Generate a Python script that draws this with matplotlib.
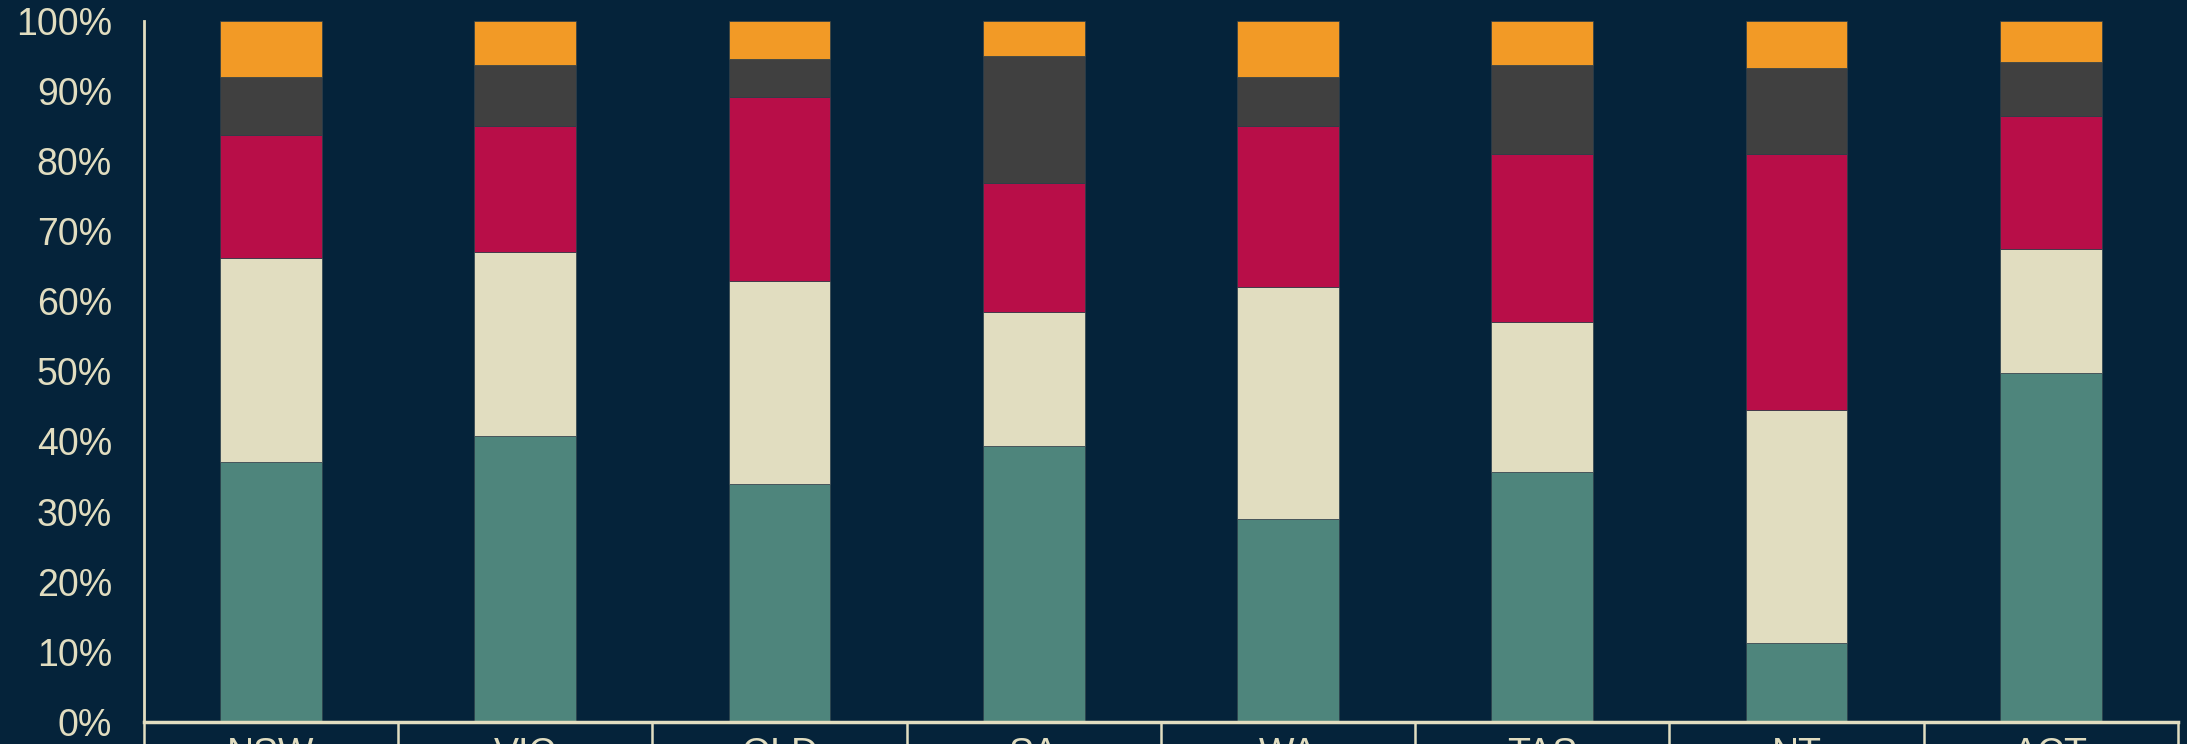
import numpy as np
import matplotlib.pyplot as plt
from matplotlib.ticker import PercentFormatter

# Etats / territoires
states = ["NSW", "VIC", "QLD", "SA", "WA", "TAS", "NT", "ACT"]

# Parts (%) de chaque segment, du bas vers le haut
teal = [37.1, 40.8, 33.9, 39.4, 28.9, 35.7, 11.3, 49.8]
cream = [29.0, 26.2, 29.0, 19.0, 33.1, 21.3, 33.2, 17.6]
crimson = [17.6, 18.0, 26.2, 18.5, 23.0, 24.0, 36.5, 19.0]
grey = [8.2, 8.7, 5.5, 18.1, 6.9, 12.7, 12.2, 7.7]
orange = [8.1, 6.3, 5.4, 5.0, 8.1, 6.3, 6.8, 5.9]

bg = "#05233A"
txt = "#E1DDC0"

series = [
    (teal, "#4E857C"),
    (cream, "#E1DDC0"),
    (crimson, "#B80E48"),
    (grey, "#404040"),
    (orange, "#F29A26"),
]

plt.rcParams['font.family'] = ['Liberation Sans', 'DejaVu Sans']

fig = plt.figure(figsize=(21.87, 7.44), dpi=100, facecolor=bg)
ax = fig.add_axes([0.0658, 0.0296, 0.930, 0.9426])
ax.set_facecolor(bg)

x = np.arange(len(states))
bottom = np.zeros(len(states))
for values, color in series:
    v = np.array(values) / 100
    ax.bar(x, v, width=0.4, bottom=bottom, color=color,
           edgecolor="#2E3F4A", linewidth=0.5, zorder=2)
    bottom += v

ax.set_ylim(0, 1)
ax.set_xlim(-0.5, len(states) - 0.5)
ax.set_yticks(np.arange(0, 1.01, 0.1))
ax.yaxis.set_major_formatter(PercentFormatter(1.0, decimals=0))

# Axes et graduations
for side in ["top", "right"]:
    ax.spines[side].set_visible(False)
ax.spines["left"].set_color(txt)
ax.spines["left"].set_linewidth(2)
ax.spines["bottom"].set_color(txt)
ax.spines["bottom"].set_linewidth(2.5)

ax.tick_params(axis="y", length=0, pad=23, labelsize=27, labelcolor=txt)
ax.set_xticks(x)
ax.set_xticklabels(states)
ax.set_xticks(np.arange(-0.5, len(states)), minor=True)
ax.tick_params(axis="x", which="major", length=0, pad=11, labelsize=27, labelcolor=txt)
ax.tick_params(axis="x", which="minor", length=30, width=1.8, color=txt, direction="out")

fig.savefig("out.png", dpi=100, facecolor=bg)
